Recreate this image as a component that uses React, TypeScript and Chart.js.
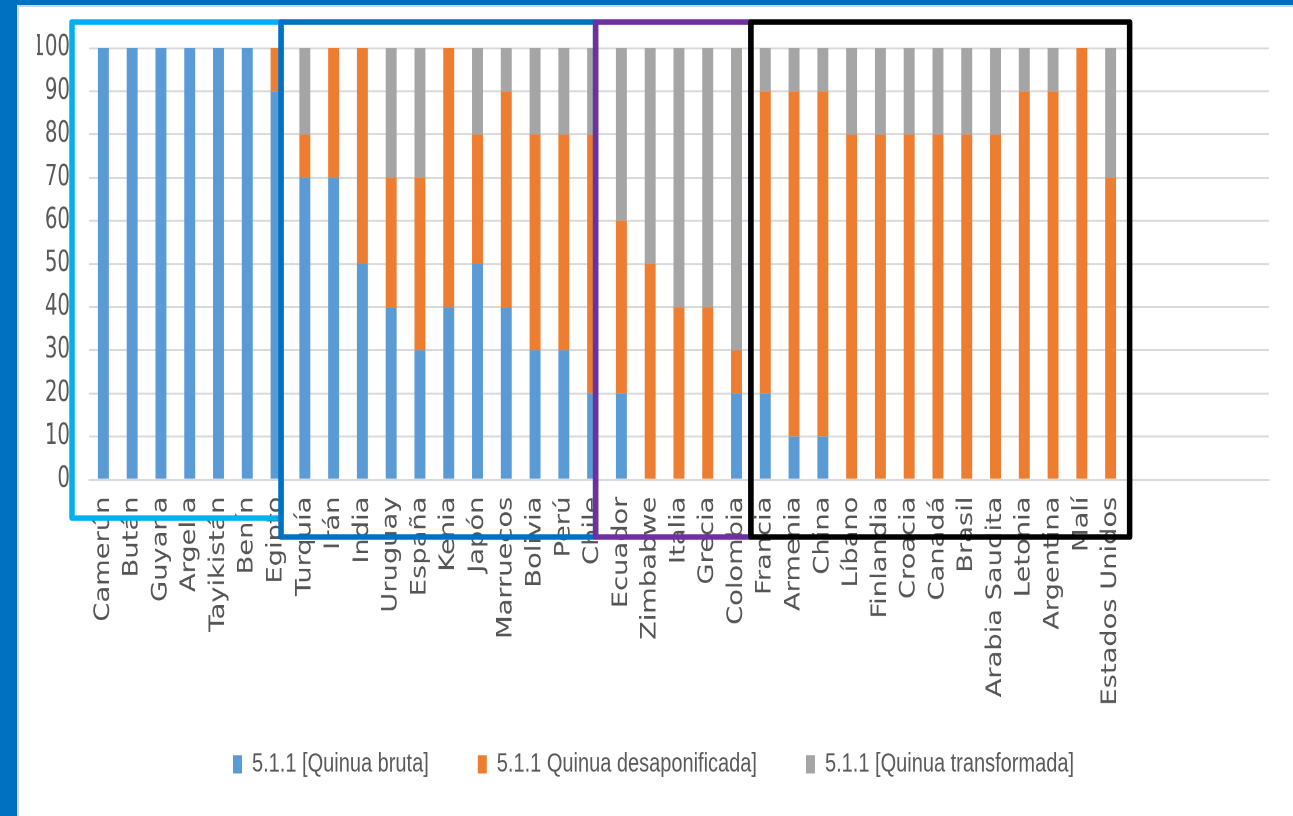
import React, { useEffect, useRef } from "react";
import { Chart, registerables } from "chart.js";

Chart.register(...registerables);

// vertical stretch of the reference picture
const S = 1.3;
const W = 1293;
const H = 628;

const categories = [
  "Camerún", "Bután", "Guyana", "Argelia", "Tayikistán", "Benín", "Egipto",
  "Turquía", "Irán", "India", "Uruguay", "España", "Kenia", "Japón", "Marruecos",
  "Bolivia", "Perú", "Chile", "Ecuador", "Zimbabwe", "Italia", "Grecia", "Colombia",
  "Francia", "Armenia", "China", "Líbano", "Finlandia", "Croacia", "Canadá", "Brasil",
  "Arabia Saudita", "Letonia", "Argentina", "Malí", "Estados Unidos",
  "", "", "", "", "",
];

const seriesNames = [
  "5.1.1 [Quinua bruta]",
  "5.1.1 Quinua desaponificada]",
  "5.1.1 [Quinua transformada]",
];

const bruta = [
  100, 100, 100, 100, 100, 100, 90, 70, 70, 50, 40, 30, 40, 50, 40, 30, 30, 20,
  20, 0, 0, 0, 20, 20, 10, 10, 0, 0, 0, 0, 0, 0, 0, 0, 0, 0,
];
const desaponificada = [
  0, 0, 0, 0, 0, 0, 10, 10, 30, 50, 30, 40, 60, 30, 50, 50, 50, 60,
  40, 50, 40, 40, 10, 70, 80, 80, 80, 80, 80, 80, 80, 80, 90, 90, 100, 70,
];
const transformada = [
  0, 0, 0, 0, 0, 0, 0, 20, 0, 0, 30, 30, 0, 20, 10, 20, 20, 20,
  40, 50, 60, 60, 70, 10, 10, 10, 20, 20, 20, 20, 20, 20, 10, 10, 0, 30,
];

const yMin = 0;
const yMax = 100;
const yStep = 10;

const TEXT = "#595959";

const boxesPlugin = {
  id: "groupBoxes",
  afterDraw(chart: any) {
    const ctx = chart.ctx;
    const xs = chart.scales.x;
    const area = chart.chartArea;
    const px = (i: number) => xs.getPixelForValue(i);
    const step = px(1) - px(0);
    ctx.save();
    ctx.scale(1, 1 / S);
    ctx.lineWidth = 5.5;
    ctx.lineJoin = "round";
    const top = 22;
    const boxes = [
      { c: "#00B0F0", l: area.left - 17, r: px(6) + 5, b: 518 },
      { c: "#0070C0", l: px(6) + 5, r: px(17) + 3, b: 537 },
      { c: "#7030A0", l: px(17) + 3, r: px(22) + step / 2, b: 537 },
      { c: "#000000", l: px(22) + step / 2, r: px(35) + 19, b: 537 },
    ];
    for (const bx of boxes) {
      ctx.strokeStyle = bx.c;
      ctx.strokeRect(bx.l, top, bx.r - bx.l, bx.b - top);
    }
    ctx.restore();
  },
};

export default function App() {
  const ref = useRef<HTMLCanvasElement | null>(null);

  useEffect(() => {
    if (!ref.current) return;
    const chart = new Chart(ref.current, {
      type: "bar",
      data: {
        labels: categories,
        datasets: [
          { label: seriesNames[0], data: bruta, backgroundColor: "#5B9BD5" },
          { label: seriesNames[1], data: desaponificada, backgroundColor: "#ED7D31" },
          { label: seriesNames[2], data: transformada, backgroundColor: "#A5A5A5" },
        ],
      },
      options: {
        animation: false,
        responsive: false,
        devicePixelRatio: 2,
        layout: { padding: { top: 37, bottom: 20, left: 37, right: 23 } },
        datasets: {
          bar: { barPercentage: 0.38, categoryPercentage: 1 },
        } as any,
        plugins: {
          tooltip: { enabled: false },
          legend: {
            position: "bottom",
            labels: {
              boxWidth: 9,
              boxHeight: 14,
              padding: 49,
              color: TEXT,
              font: { family: "'Liberation Sans', Arial, sans-serif", size: 20 },
            },
          },
        },
        scales: {
          x: {
            stacked: true,
            grid: { display: false, drawTicks: false },
            border: { display: true, color: "#d9d9d9", width: 1.5 },
            ticks: {
              autoSkip: false,
              maxRotation: 90,
              minRotation: 90,
              padding: 13,
              color: "#555555",
              font: { family: "'DejaVu Sans', sans-serif", size: 21 },
            },
            afterFit: (s: any) => {
              s.height = 160;
              // let the long rotated labels run past the axis box
              s._computeLabelArea = () => undefined;
            },
          },
          y: {
            stacked: true,
            min: yMin,
            max: yMax,
            grid: { color: "#d9d9d9", lineWidth: 1.5, drawTicks: false },
            border: { display: false },
            ticks: {
              stepSize: yStep,
              padding: 19,
              color: TEXT,
              font: { family: "'Liberation Sans Narrow', 'DejaVu Sans Condensed', sans-serif", size: 22 },
            },
            afterFit: (s: any) => {
              s.width = 52;
            },
          },
        },
      },
      plugins: [boxesPlugin],
    });
    return () => chart.destroy();
  }, []);

  return (
    <div
      style={{
        position: "fixed",
        left: 0,
        top: 0,
        width: W,
        height: 816,
        background: "#0070C0",
        overflow: "hidden",
      }}
    >
      <div
        style={{
          position: "absolute",
          left: 17,
          top: 5,
          right: 0,
          bottom: 0,
          background: "#ffffff",
          borderTop: "2px solid #d6d6d6",
          borderLeft: "2px solid #d6d6d6",
        }}
      />
      <div
        style={{
          position: "absolute",
          left: 0,
          top: 0,
          width: W,
          height: H,
          transform: `scaleY(${S})`,
          transformOrigin: "0 0",
        }}
      >
        <canvas ref={ref} width={W} height={H} style={{ display: "block" }} />
      </div>
    </div>
  );
}
